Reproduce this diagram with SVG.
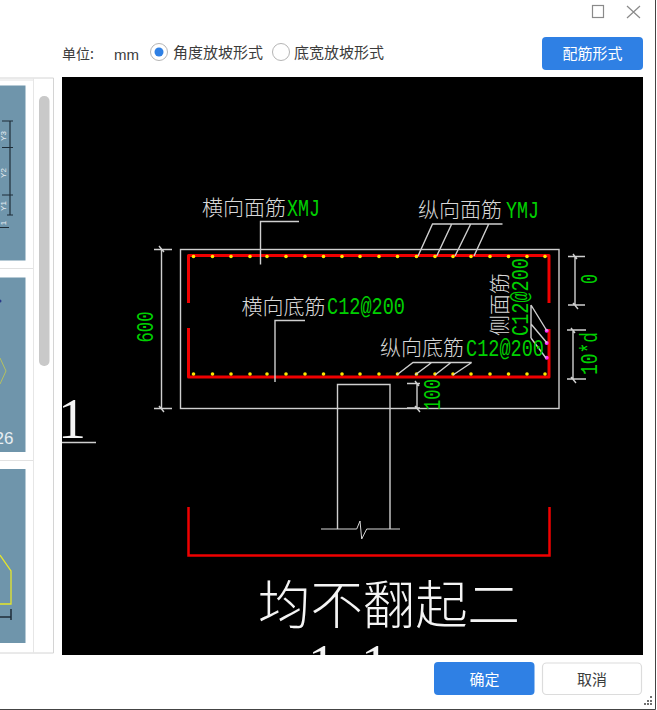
<svg xmlns="http://www.w3.org/2000/svg" width="657" height="710" viewBox="0 0 657 710">
<style>
.ui{font-family:"Noto Sans CJK SC","Liberation Sans",sans-serif;font-size:15px;fill:#3c3c3c}
.cad{font-family:"Noto Sans CJK SC",sans-serif;font-size:21px;fill:#d8d8d8;font-weight:300}
.g{font-family:"Liberation Mono",monospace;font-size:24px;fill:#00d000}
.big{font-family:"Liberation Serif","Noto Sans CJK SC",serif;font-size:56px;fill:#f4f4f4}
.ln{stroke:#cfcfcf;stroke-width:1.4;fill:none}
.tn{stroke:#d8d8d8;stroke-width:1;fill:none}
.red{stroke:#f00000;stroke-width:3;fill:none;stroke-linejoin:round}
.red2{stroke:#f00000;stroke-width:2.5;fill:none}
.dark{stroke:#1f2d38;stroke-width:1.2;fill:none}
.tm{fill:#6f95ab}
.blue{fill:#2f80e4}
.y{fill:#ffe600}
.m{fill:#ff30ff}
</style>
<defs>
<clipPath id="cv"><rect x="62" y="77" width="581" height="578"/></clipPath>
<clipPath id="lp"><rect x="0" y="78" width="26" height="576"/></clipPath>
</defs>
<rect width="657" height="710" fill="#fff"/>

<g id="window-controls" fill="none" stroke="#8a8a8a" stroke-width="1.2">
<rect x="592.5" y="5.5" width="11" height="12"/>
<path d="M627 6L640 18M640 6L627 18"/>
</g>
<g id="unit-bar">
<text class="ui" x="62" y="59" style="font-size:14px">单位:</text>
<text class="ui" x="114" y="60" style="font-family:'Liberation Sans',sans-serif">mm</text>
</g>
<g id="radio-angle">
<circle cx="159" cy="52" r="8.5" fill="#fff" stroke="#b5b5b5"/>
<circle cx="159" cy="52" r="4.5" class="blue"/>
<text class="ui" x="173" y="58">角度放坡形式</text>
</g>
<g id="radio-width">
<circle cx="281" cy="52" r="8.5" fill="#fff" stroke="#b5b5b5"/>
<text class="ui" x="294" y="58">底宽放坡形式</text>
</g>
<g id="btn-rebar">
<rect x="542" y="37" width="101" height="33" rx="4" class="blue"/>
<text class="ui" x="592.500" y="59" text-anchor="middle" style="fill:#fff">配筋形式</text>
</g>

<g id="left-panel">
<path d="M0 78H53.500V653H0" fill="#fff" stroke="#d4d4d4"/>
<path d="M33.500 78V653" stroke="#e6e6e6"/>
<path d="M0 80H33M0 268.500H33M0 460.500H33" stroke="#e2e2e2"/>
<rect x="39" y="96" width="10.500" height="270" rx="5" fill="#c9c9c9"/>
<rect x="0" y="85.500" width="25.500" height="175" class="tm"/>
<rect x="0" y="277.500" width="25.500" height="174.500" class="tm"/>
<rect x="0" y="469" width="25.500" height="174" class="tm"/>
<g clip-path="url(#lp)">
<path class="dark" d="M10 121V215M2 121H13M2 147.500H13M2 195H13M7 215H13M0 227.500H9"/>
<g font-family="Liberation Sans,sans-serif" font-size="8" fill="#e8eef2">
<text transform="translate(5.500,136) rotate(-90)" text-anchor="middle">Y3</text>
<text transform="translate(5.500,173) rotate(-90)" text-anchor="middle">Y2</text>
<text transform="translate(5.500,206) rotate(-90)" text-anchor="middle">Y1</text>
<text transform="translate(5.500,223) rotate(-90)" text-anchor="middle">1</text>
<text x="-5.500" y="444" font-size="17">26</text>
</g>
<circle cx="0" cy="301" r="1.500" fill="#2a3a8a"/>
<path d="M0 358L6 371L0 384" fill="none" stroke="#b5c060" stroke-width="1"/>
<path d="M0 555L11 571V604H0" fill="none" stroke="#e6e62a" stroke-width="1.300"/>
<path class="dark" d="M0 617H11M11 609V620" style="stroke-width:1.500"/>
</g>
</g>

<rect id="canvas-bg" x="62" y="77" width="581" height="578" fill="#000"/>
<g clip-path="url(#cv)">
<g id="section-mark">
<text class="big" x="58" y="438">1</text>
<path class="ln" d="M62 442.500H96"/>
</g>
<g id="slab-outline"><rect class="ln" x="180.500" y="249.500" width="378.500" height="159"/></g>
<g id="column"><path class="ln" d="M337.500 529V384.500H390V529"/></g>
<g id="rebar-top"><path class="red" d="M188.500 303V255.500H549V303"/></g>
<g id="rebar-bottom"><path class="red" d="M188.500 328V377H549V329"/></g>
<g id="rebar-lower"><path class="red2" d="M188.500 507V555.500H549.500V507"/></g>
<g id="bars-top" class="y">
<circle cx="193.500" cy="256.500" r="1.800"/><circle cx="212.500" cy="256.500" r="1.800"/><circle cx="231" cy="256.500" r="1.800"/><circle cx="250" cy="256.500" r="1.800"/><circle cx="267" cy="256.500" r="1.800"/><circle cx="286" cy="256.500" r="1.800"/><circle cx="305" cy="256.500" r="1.800"/><circle cx="323.500" cy="256.500" r="1.800"/><circle cx="342" cy="256.500" r="1.800"/><circle cx="360" cy="256.500" r="1.800"/><circle cx="379" cy="256.500" r="1.800"/><circle cx="397.500" cy="256.500" r="1.800"/><circle cx="416.500" cy="256.500" r="1.800"/><circle cx="435" cy="256.500" r="1.800"/><circle cx="453" cy="256.500" r="1.800"/><circle cx="471" cy="256.500" r="1.800"/><circle cx="490" cy="256.500" r="1.800"/><circle cx="508.500" cy="256.500" r="1.800"/><circle cx="527" cy="256.500" r="1.800"/><circle cx="545" cy="256.500" r="1.800"/>
</g>
<g id="bars-bottom" class="y">
<circle cx="193.500" cy="374" r="1.800"/><circle cx="212.500" cy="374" r="1.800"/><circle cx="231" cy="374" r="1.800"/><circle cx="250" cy="374" r="1.800"/><circle cx="267" cy="374" r="1.800"/><circle cx="286" cy="374" r="1.800"/><circle cx="305" cy="374" r="1.800"/><circle cx="323.500" cy="374" r="1.800"/><circle cx="342" cy="374" r="1.800"/><circle cx="360" cy="374" r="1.800"/><circle cx="379" cy="374" r="1.800"/><circle cx="397.500" cy="374" r="1.800"/><circle cx="416.500" cy="374" r="1.800"/><circle cx="435" cy="374" r="1.800"/><circle cx="453" cy="374" r="1.800"/><circle cx="471" cy="374" r="1.800"/><circle cx="490" cy="374" r="1.800"/><circle cx="508.500" cy="374" r="1.800"/><circle cx="527" cy="374" r="1.800"/><circle cx="545" cy="374" r="1.800"/>
</g>
<g id="bars-side" class="m">
<circle cx="546.700" cy="330.700" r="2"/><circle cx="546.700" cy="343" r="2"/><circle cx="546.700" cy="357.700" r="2"/>
</g>
<g id="connectors">
<path class="ln" d="M299 221.500H260.500V264.500"/>
<path class="ln" d="M502.500 224H432.500L418 256M451.700 224L436.700 256M470.700 224L455 256M488.700 224L474 256"/>
<path class="ln" d="M305 320.500H275V382"/>
<path class="ln" d="M471.700 362.500H413L396.700 375M431.700 362.500L415 375M451 362.500L435 375M471.700 362.500L453 375"/>
<path class="ln" d="M531 305V338M531 305L547 331M531 324L547 343M531 338L546 358"/>
<path class="tn" d="M321 529H356.700L360 521L361.700 539L366.700 529H400"/>
</g>
<g id="dim-600">
<path class="ln" d="M161.500 249V408.500M154 249.500H172M154 408.500H172M159 246L164 252M159 406L164 412"/>
<text class="g" transform="translate(153,342.500) rotate(-90)" textLength="31" lengthAdjust="spacingAndGlyphs">600</text>
</g>
<g id="dim-0">
<path class="ln" d="M575 256V305M568 256.500H585M568 305H585M573 254L577 259M573 303L578 309"/>
<text class="g" transform="translate(597,284) rotate(-90)" textLength="10" lengthAdjust="spacingAndGlyphs">0</text>
</g>
<g id="dim-10d">
<path class="ln" d="M573 330V379M567 330H586M567 379H586M571 328L575 333M571 377L576 383"/>
<text class="g" transform="translate(597,375) rotate(-90)" textLength="43" lengthAdjust="spacingAndGlyphs">10*d</text>
</g>
<g id="dim-100">
<path class="ln" d="M417 383.500V408.500M407 383.500H420M407 408H420M415 381L419 386M415 406L420 412"/>
<text class="g" transform="translate(440,410) rotate(-90)" textLength="31" lengthAdjust="spacingAndGlyphs">100</text>
</g>
<g id="label-xmj"><text class="cad" x="202" y="214.500">横向面筋</text><text class="g" x="287" y="216" textLength="33" lengthAdjust="spacingAndGlyphs">XMJ</text></g>
<g id="label-ymj"><text class="cad" x="418" y="217">纵向面筋</text><text class="g" x="506" y="217.500" textLength="33" lengthAdjust="spacingAndGlyphs">YMJ</text></g>
<g id="label-bottom-x"><text class="cad" x="241.500" y="313.500">横向底筋</text><text class="g" x="327" y="314" textLength="78" lengthAdjust="spacingAndGlyphs">C12@200</text></g>
<g id="label-bottom-y"><text class="cad" x="380" y="355">纵向底筋</text><text class="g" x="466" y="356" textLength="78" lengthAdjust="spacingAndGlyphs">C12@200</text></g>
<g id="label-side">
<text class="cad" transform="translate(506.500,336) rotate(-90)">侧面筋</text>
<text class="g" transform="translate(528,336) rotate(-90)" textLength="78" lengthAdjust="spacingAndGlyphs">C12@200</text>
</g>
<g id="title">
<text class="big" x="258" y="624" style="font-family:'Noto Sans CJK SC',sans-serif;font-size:52.400px;font-weight:300">均不翻起二</text>
<text class="big" x="308 335 361" y="684">1-1</text>
</g>
</g>

<g id="btn-ok">
<rect x="434" y="662" width="100.500" height="33" rx="4" class="blue"/>
<text class="ui" x="484.500" y="685" text-anchor="middle" style="fill:#fff">确定</text>
</g>
<g id="btn-cancel">
<rect x="542.500" y="663" width="99" height="31.500" rx="4" fill="#fff" stroke="#dcdcdc" stroke-width="1.200"/>
<text class="ui" x="592" y="685" text-anchor="middle">取消</text>
</g>
<g id="grip" fill="#707070">
<rect x="650" y="696" width="2" height="2"/><rect x="647" y="700" width="2" height="2"/><rect x="650" y="700" width="2" height="2"/><rect x="644" y="703" width="2" height="2"/><rect x="647" y="703" width="2" height="2"/><rect x="650" y="703" width="2" height="2"/>
</g>
<path id="window-edge" d="M0 709.500H655.500V0" fill="none" stroke="#444"/>
</svg>
